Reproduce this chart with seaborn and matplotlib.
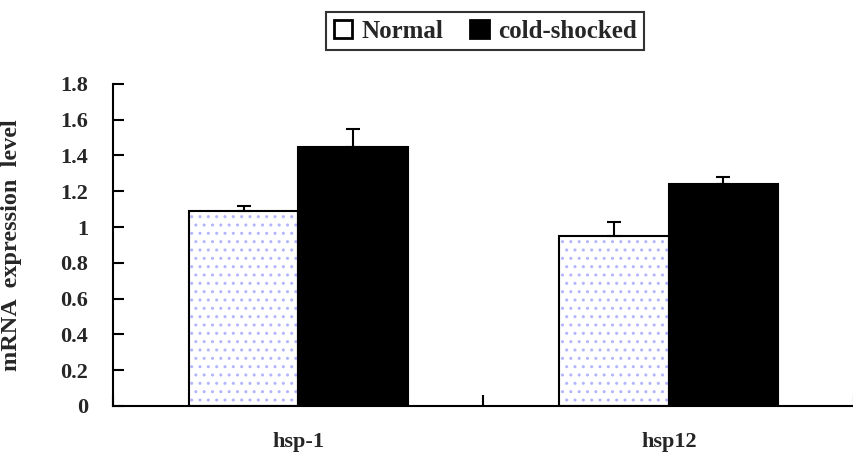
import numpy as np
import pandas as pd
import seaborn as sns
import matplotlib.pyplot as plt
from matplotlib.patches import Patch, Rectangle
from matplotlib.ticker import FuncFormatter

# chart values
genes = ["hsp-1", "hsp12"]
conditions = ["Normal", "cold-shocked"]
normal_vals = [1.09, 0.95]
cold_vals = [1.45, 1.24]
normal_err = [0.03, 0.08]
cold_err = [0.10, 0.04]
y_ticks = [0, 0.2, 0.4, 0.6, 0.8, 1, 1.2, 1.4, 1.6, 1.8]

df = pd.DataFrame({
    "gene": genes * 2,
    "condition": [conditions[0]] * 2 + [conditions[1]] * 2,
    "value": normal_vals + cold_vals,
})

sns.set_theme(style="white")
plt.rcParams["font.family"] = ["Liberation Serif", "DejaVu Serif"]
plt.rcParams["font.weight"] = "bold"

fig = plt.figure(figsize=(8.54, 4.65), dpi=100)
ax = fig.add_axes([0.1323, 0.127, 0.8677, 0.6925])

dot_color = "#b4b4ff"
sns.barplot(data=df, x="gene", y="value", hue="condition", order=genes,
            hue_order=conditions, palette=["white", "black"], width=0.59,
            errorbar=None, legend=False, edgecolor="black", linewidth=1.5,
            saturation=1, ax=ax)

errs = [normal_err, cold_err]
for cont, err in zip(ax.containers, errs):
    xs = [p.get_x() + p.get_width() / 2 for p in cont]
    hs = [p.get_height() for p in cont]
    ax.errorbar(xs, hs, yerr=[np.zeros(len(err)), err], fmt="none",
                ecolor="black", elinewidth=1.5, capsize=5, capthick=1.5, zorder=1)

# dotted fill for the Normal bars, outline on top
for p in ax.containers[0]:
    p.set_edgecolor(dot_color)
    p.set_hatch("..")
    p.set_linewidth(0)
    ax.add_patch(Rectangle(p.get_xy(), p.get_width(), p.get_height(),
                           fill=False, edgecolor="black", linewidth=1.5, zorder=3))
for p in ax.containers[1]:
    p.set_zorder(3)

ax.set_xlim(-0.5, 1.5)
ax.set_ylim(0, 1.8)
ax.set_yticks(y_ticks)
ax.yaxis.set_major_formatter(FuncFormatter(lambda v, _: f"{v:g}"))
ax.set_xticks([0, 1])
ax.set_xticklabels(genes)
ax.set_xticks([-0.5, 0.5, 1.5], minor=True)
ax.tick_params(axis="x", which="major", length=0, pad=19, labelsize=16)
ax.tick_params(axis="x", which="minor", direction="in", length=8, width=1.5,
               color="black", bottom=True)
ax.tick_params(axis="y", direction="in", length=8, width=1.5, color="black",
               left=True, pad=18, labelsize=16)
for lab in ax.get_xticklabels() + ax.get_yticklabels():
    lab.set_fontweight("bold")

ax.set_xlabel("")
ax.set_ylabel("mRNA  expression  level", fontsize=17.5, fontweight="bold")
ax.yaxis.set_label_coords(-0.123, 0.5)

for side in ["top", "right"]:
    ax.spines[side].set_visible(False)
for side in ["left", "bottom"]:
    ax.spines[side].set_color("black")
    ax.spines[side].set_linewidth(1.5)

handles = [Patch(facecolor="white", edgecolor="black", linewidth=2),
           Patch(facecolor="black", edgecolor="black", linewidth=2)]
leg = fig.legend(handles, conditions, loc="center", bbox_to_anchor=(0.568, 0.933),
                 ncol=2, frameon=True, fancybox=False, handlelength=0.75,
                 handleheight=0.75, handletextpad=0.35, columnspacing=1.1,
                 borderpad=0.3, prop={"size": 18, "weight": "bold"})
leg.get_frame().set_edgecolor("black")
leg.get_frame().set_linewidth(1.5)

fig.savefig("out.png", dpi=100)
